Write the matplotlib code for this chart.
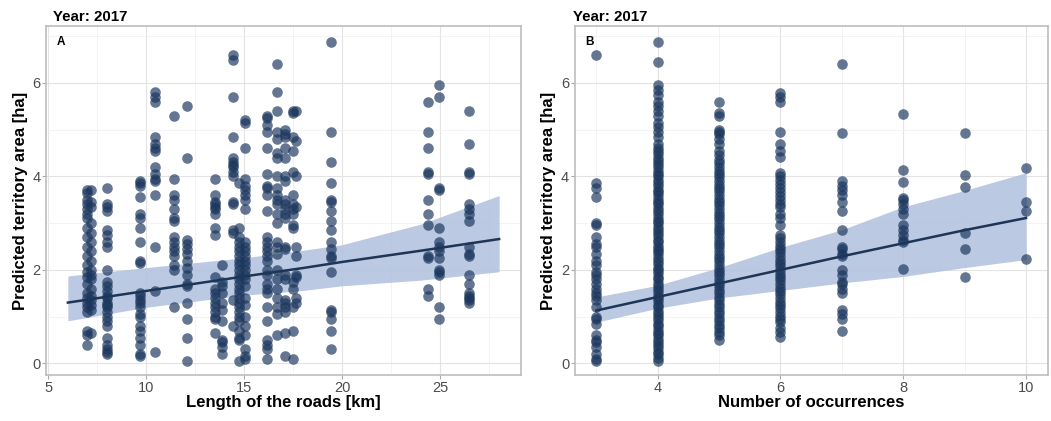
import matplotlib
matplotlib.use('Agg')
import matplotlib.pyplot as plt
import numpy as np

plt.rcParams['font.family'] = ['Liberation Sans', 'DejaVu Sans']

# ---- panel A: length of the roads [km] ----
roads_km = [7.0, 7.2, 8.0, 9.7, 10.45, 11.4, 12.1, 13.5, 13.85, 14.4, 14.75, 15.05,
            16.15, 16.65, 17.1, 17.5, 17.65, 19.43, 24.37, 24.93, 26.47]
area_by_road = [
    [3.7, 3.65, 3.5, 3.4, 3.3, 3.2, 3.1, 2.9, 2.7, 2.5, 2.3, 2.1, 1.95, 1.85, 1.7,
     1.5, 1.4, 1.3, 1.2, 1.1, 0.7, 0.6, 0.4],
    [3.7, 3.45, 3.35, 3.0, 2.8, 2.6, 2.4, 2.2, 2.0, 1.9, 1.8, 1.6, 1.45, 1.35, 1.25,
     1.15, 0.65],
    [3.75, 3.4, 3.35, 3.25, 2.85, 2.75, 2.6, 2.5, 2.0, 1.75, 1.65, 1.55, 1.45, 1.4,
     1.3, 1.25, 1.2, 1.1, 1.0, 0.9, 0.8, 0.55, 0.4, 0.3, 0.25, 0.2],
    [3.9, 3.85, 3.8, 3.55, 3.2, 3.1, 2.9, 2.6, 2.2, 2.15, 1.5, 1.45, 1.35, 1.3, 1.2,
     1.05, 1.0, 0.8, 0.7, 0.55, 0.4, 0.2, 0.15],
    [5.8, 5.7, 5.6, 4.85, 4.7, 4.6, 4.55, 4.2, 4.05, 3.95, 3.9, 3.6, 2.5, 1.55, 0.25],
    [5.3, 3.95, 3.6, 3.5, 3.3, 3.1, 3.05, 2.7, 2.6, 2.5, 2.4, 2.3, 2.1, 2.0, 1.2],
    [5.5, 4.4, 2.65, 2.55, 2.45, 2.35, 2.2, 2.05, 1.9, 1.7, 1.65, 1.3, 0.95, 0.55, 0.05],
    [3.95, 3.6, 3.45, 3.4, 3.35, 3.3, 3.2, 2.9, 2.75, 1.85, 1.6, 1.5, 1.4, 1.3, 1.2,
     1.1, 1.0, 0.95, 0.65],
    [2.1, 1.75, 1.65, 1.5, 1.3, 1.15, 0.9, 0.5, 0.45, 0.35, 0.2],
    [6.6, 6.5, 5.7, 4.85, 4.4, 4.3, 4.25, 4.2, 4.1, 4.0, 3.45, 3.4, 2.85, 2.8, 1.35, 0.8],
    [3.85, 2.9, 2.7, 2.6, 2.5, 2.4, 2.3, 2.2, 2.1, 2.0, 1.9, 1.8, 1.7, 1.6, 1.5, 1.4,
     1.3, 1.2, 1.1, 1.0, 0.9, 0.7, 0.55, 0.5, 0.05],
    [5.2, 5.15, 4.6, 3.95, 3.8, 3.7, 3.6, 3.5, 3.3, 2.6, 2.5, 2.4, 2.3, 2.2, 2.1, 2.0,
     1.9, 1.8, 1.65, 1.4, 1.25, 1.0, 0.8, 0.6, 0.3, 0.15, 0.1],
    [5.3, 5.25, 5.1, 4.95, 4.6, 4.05, 3.8, 3.75, 3.6, 3.25, 2.7, 2.6, 2.5, 2.4, 2.3,
     2.2, 2.0, 1.9, 1.7, 1.6, 1.5, 1.2, 0.9, 0.5, 0.4, 0.3, 0.1],
    [6.4, 5.8, 5.4, 4.95, 4.8, 4.5, 4.4, 4.0, 3.75, 3.6, 3.5, 3.4, 3.2, 3.0, 2.6, 2.5,
     2.35, 2.0, 1.8, 1.6, 1.4, 1.2, 1.05, 0.6],
    [5.0, 4.9, 4.85, 4.6, 4.4, 4.0, 3.9, 3.5, 3.4, 3.3, 3.2, 3.1, 2.5, 2.45, 1.9, 1.8,
     1.35, 1.3, 1.2, 1.1, 0.65, 0.15],
    [5.4, 5.35, 4.85, 4.55, 4.1, 3.6, 3.4, 3.3, 3.2, 2.95, 2.9, 1.75, 1.6, 1.2, 0.7, 0.1],
    [5.4, 4.75, 4.0, 3.35, 2.5, 2.3, 1.9, 1.85, 1.4, 1.3],
    [6.87, 4.95, 4.3, 3.85, 3.5, 3.45, 3.25, 3.05, 2.85, 2.6, 2.45, 2.3, 2.25, 1.95,
     1.15, 1.1, 0.95, 0.7, 0.3],
    [5.6, 4.95, 4.6, 4.1, 4.05, 3.5, 3.2, 2.95, 2.3, 2.25, 1.6, 1.45],
    [5.95, 5.7, 3.75, 3.7, 2.9, 2.6, 2.5, 2.4, 2.25, 2.0, 1.95, 1.9, 1.2, 0.95],
    [5.4, 4.7, 4.1, 4.05, 3.4, 3.3, 3.2, 3.05, 2.5, 2.35, 2.3, 1.9, 1.7, 1.5, 1.45,
     1.4, 1.35, 1.3],
]
fit_a_x = [6, 10, 15, 18, 20, 24, 28]
fit_a = [1.30, 1.55, 1.86, 2.04, 2.17, 2.41, 2.66]
fit_a_lo = [0.91, 1.20, 1.46, 1.56, 1.66, 1.78, 1.96]
fit_a_hi = [1.87, 2.05, 2.26, 2.42, 2.54, 2.98, 3.59]

# ---- panel B: number of occurrences ----
occurrences = [3, 4, 5, 6, 7, 8, 9, 10]
area_by_occ = [
    [6.6, 3.85, 3.75, 3.55, 3.0, 2.95, 2.7, 2.55, 2.5, 2.35, 2.2, 2.1, 1.95, 1.9, 1.8,
     1.7, 1.6, 1.5, 1.45, 1.35, 1.2, 1.0, 0.95, 0.85, 0.6, 0.5, 0.45, 0.35, 0.2, 0.1, 0.05],
    [6.87, 6.45, 5.95, 5.85, 5.75, 5.6, 5.5, 5.4, 5.3, 5.15, 5.05, 4.95, 4.85, 4.7,
     4.6, 4.55, 4.47, 4.4, 4.33, 4.27, 4.2, 4.12, 4.05, 4.0, 3.93, 3.85, 3.8, 3.72,
     3.66, 3.6, 3.52, 3.45, 3.4, 3.33, 3.25, 3.2, 3.12, 3.05, 3.0, 2.92, 2.85, 2.8,
     2.73, 2.65, 2.6, 2.52, 2.45, 2.4, 2.33, 2.25, 2.2, 2.12, 2.05, 2.0, 1.93, 1.85,
     1.8, 1.72, 1.66, 1.6, 1.52, 1.45, 1.4, 1.33, 1.25, 1.2, 1.12, 1.05, 1.0, 0.92,
     0.85, 0.8, 0.72, 0.65, 0.6, 0.52, 0.45, 0.4, 0.32, 0.25, 0.2, 0.12, 0.05],
    [5.6, 5.35, 5.3, 5.0, 4.95, 4.9, 4.8, 4.7, 4.55, 4.45, 4.35, 4.28, 4.2, 4.12, 4.05,
     3.98, 3.9, 3.82, 3.75, 3.68, 3.6, 3.52, 3.45, 3.38, 3.3, 3.22, 3.15, 3.08, 3.0,
     2.92, 2.85, 2.78, 2.7, 2.62, 2.55, 2.48, 2.4, 2.32, 2.25, 2.18, 2.1, 2.02, 1.95,
     1.88, 1.8, 1.72, 1.65, 1.58, 1.5, 1.42, 1.35, 1.28, 1.2, 1.12, 1.05, 0.98, 0.9,
     0.82, 0.75, 0.68, 0.6, 0.5],
    [5.78, 5.7, 5.6, 4.96, 4.7, 4.55, 4.41, 4.07, 4.0, 3.92, 3.83, 3.75, 3.66, 3.58,
     3.5, 3.42, 3.35, 3.2, 3.1, 2.96, 2.75, 2.68, 2.6, 2.52, 2.45, 2.38, 2.3, 2.22,
     2.15, 2.08, 2.0, 1.92, 1.85, 1.78, 1.7, 1.62, 1.55, 1.48, 1.4, 1.32, 1.25, 1.18,
     1.1, 1.02, 0.95, 0.88, 0.76, 0.68, 0.57],
    [6.41, 4.93, 3.9, 3.8, 3.7, 3.6, 3.45, 3.25, 2.85, 2.5, 2.45, 2.35, 2.3, 2.0, 1.9,
     1.75, 1.7, 1.6, 1.5, 1.15, 1.05, 0.95, 0.7],
    [5.34, 4.14, 3.89, 3.54, 3.5, 3.42, 3.3, 3.2, 2.95, 2.85, 2.75, 2.65, 2.6, 2.02],
    [4.93, 4.03, 3.78, 2.79, 2.45, 1.84],
    [4.19, 3.46, 3.25, 2.23],
]
fit_b_x = [3, 4, 5, 6, 7, 8, 9, 10]
fit_b = [1.13, 1.42, 1.71, 2.00, 2.29, 2.57, 2.85, 3.11]
fit_b_lo = [0.88, 1.18, 1.40, 1.56, 1.72, 1.86, 2.05, 2.22]
fit_b_hi = [1.42, 1.67, 2.05, 2.48, 2.86, 3.35, 3.70, 4.08]

point_col = '#1b365d'
band_col = '#b4c3e0'
line_col = '#1d3557'

W, H = 1051, 421
fig = plt.figure(figsize=(W / 100, H / 100), dpi=100)


def px_rect(x0, x1, y0, y1):
    return [x0 / W, 1 - y1 / H, (x1 - x0) / W, (y1 - y0) / H]


def style_axes(ax, xlim, xmajor, xminor):
    ax.set_xlim(*xlim)
    ax.set_ylim(-0.25, 7.22)
    ax.set_xticks(xmajor)
    ax.set_xticks(xminor, minor=True)
    ax.set_yticks([0, 2, 4, 6])
    ax.set_yticks([1, 3, 5, 7], minor=True)
    ax.grid(which='major', color='#e3e3e3', lw=0.8)
    ax.grid(which='minor', color='#efefef', lw=0.5)
    ax.set_axisbelow(True)
    for s in ax.spines.values():
        s.set_color('#bdbdbd')
        s.set_linewidth(1.2)
    ax.tick_params(which='major', length=3, width=0.8, color='#aaaaaa',
                   labelsize=10.5, labelcolor='#4d4d4d', pad=1)
    ax.tick_params(which='minor', length=0)


def draw_panel(ax, xs, ys, fx, fy, flo, fhi):
    ax.fill_between(fx, flo, fhi, color=band_col, alpha=0.9, lw=0, zorder=1)
    for x, col in zip(xs, ys):
        ax.scatter([x] * len(col), col, s=58, color=point_col, alpha=0.68,
                   linewidths=0, zorder=2)
    ax.plot(fx, fy, color=line_col, lw=1.8, zorder=3)


axA = fig.add_axes(px_rect(46.3, 520.7, 26, 375))
draw_panel(axA, roads_km, area_by_road, fit_a_x, fit_a, fit_a_lo, fit_a_hi)
style_axes(axA, (4.9, 29.1), [5, 10, 15, 20, 25], [7.5, 12.5, 17.5, 22.5, 27.5])
axA.set_xlabel('Length of the roads [km]', fontsize=12, fontweight='bold')
axA.set_ylabel('Predicted territory area [ha]', fontsize=12, fontweight='bold')
axA.yaxis.set_label_coords(-0.039, 0.5)
axA.xaxis.set_label_coords(0.5, -0.058)
axA.text(0.022, 0.972, 'A', transform=axA.transAxes, fontsize=8.5,
         fontweight='bold', va='top', ha='left')

axB = fig.add_axes(px_rect(574.8, 1047.5, 26, 375))
draw_panel(axB, occurrences, area_by_occ, fit_b_x, fit_b, fit_b_lo, fit_b_hi)
style_axes(axB, (2.65, 10.35), [4, 6, 8, 10], [3, 5, 7, 9])
axB.set_xlabel('Number of occurrences', fontsize=12, fontweight='bold')
axB.set_ylabel('Predicted territory area [ha]', fontsize=12, fontweight='bold')
axB.yaxis.set_label_coords(-0.039, 0.5)
axB.xaxis.set_label_coords(0.5, -0.058)
axB.text(0.022, 0.972, 'B', transform=axB.transAxes, fontsize=8.5,
         fontweight='bold', va='top', ha='left')

fig.text(53 / W, 1 - 21 / H, 'Year: 2017', fontsize=10.8, fontweight='bold')
fig.text(573 / W, 1 - 21 / H, 'Year: 2017', fontsize=10.8, fontweight='bold')

fig.savefig('out.png', dpi=100)
